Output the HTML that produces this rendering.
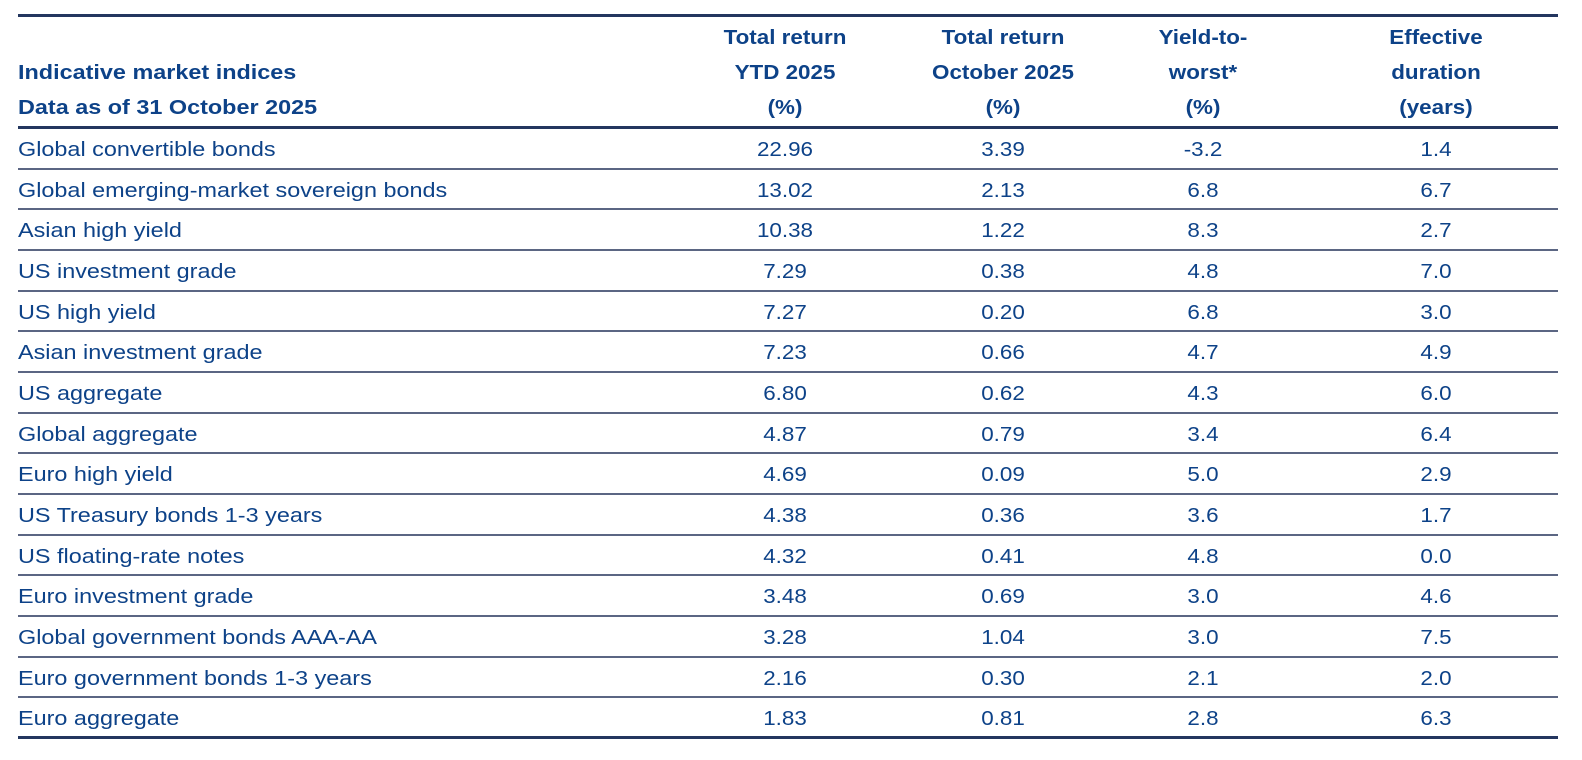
<!DOCTYPE html>
<html><head><style>
body{margin:0;width:1582px;height:760px;background:#fff;position:relative;font-family:"Liberation Sans",sans-serif;color:#0d4288;overflow:hidden}
.l{position:absolute;left:18px;width:1540px}
.t{position:absolute;font-size:20px;white-space:nowrap;transform-origin:0 0;transform:scaleX(1.17)}
.c{transform-origin:50% 0;transform:translateX(-50%) scaleX(1.12)}
.b{font-weight:bold}
</style></head><body>
<div class="l" style="top:14px;height:3px;background:#23365f"></div>
<div class="l" style="top:126px;height:3px;background:#23365f"></div>
<div class="l" style="top:736px;height:3px;background:#23365f"></div>
<div id="lines"></div>
<div class="t b" style="left:18px;top:62px">Indicative market indices</div>
<div class="t b" style="left:18px;top:97px">Data as of 31 October 2025</div>
<div id="hdr"></div>
<div id="rows"></div>
<script>
var cx=[785,1003,1203,1436];
var h=[["Total return","YTD 2025","(%)"],["Total return","October 2025","(%)"],["Yield-to-","worst*","(%)"],["Effective","duration","(years)"]];
var s="";
h.forEach(function(c,i){c.forEach(function(t,j){s+='<div class="t b c" style="left:'+cx[i]+'px;top:'+(27+j*35)+'px">'+t+'</div>';});});
document.getElementById("hdr").innerHTML=s;
var d=[["Global convertible bonds","22.96","3.39","-3.2","1.4"],["Global emerging-market sovereign bonds","13.02","2.13","6.8","6.7"],["Asian high yield","10.38","1.22","8.3","2.7"],["US investment grade","7.29","0.38","4.8","7.0"],["US high yield","7.27","0.20","6.8","3.0"],["Asian investment grade","7.23","0.66","4.7","4.9"],["US aggregate","6.80","0.62","4.3","6.0"],["Global aggregate","4.87","0.79","3.4","6.4"],["Euro high yield","4.69","0.09","5.0","2.9"],["US Treasury bonds 1-3 years","4.38","0.36","3.6","1.7"],["US floating-rate notes","4.32","0.41","4.8","0.0"],["Euro investment grade","3.48","0.69","3.0","4.6"],["Global government bonds AAA-AA","3.28","1.04","3.0","7.5"],["Euro government bonds 1-3 years","2.16","0.30","2.1","2.0"],["Euro aggregate","1.83","0.81","2.8","6.3"]];
s="";var L="";var rh=40.67;
d.forEach(function(r,i){var y=128+i*rh;
s+='<div class="t" style="left:18px;top:'+(y+11)+'px">'+r[0]+'</div>';
for(var k=1;k<5;k++)s+='<div class="t c" style="left:'+cx[k-1]+'px;top:'+(y+11)+'px">'+r[k]+'</div>';
if(i<14)L+='<div class="l" style="top:'+Math.round(y+rh-1)+'px;height:2px;background:#5b6683"></div>';
});
document.getElementById("rows").innerHTML=s;
document.getElementById("lines").innerHTML=L;
</script>
</body></html>
